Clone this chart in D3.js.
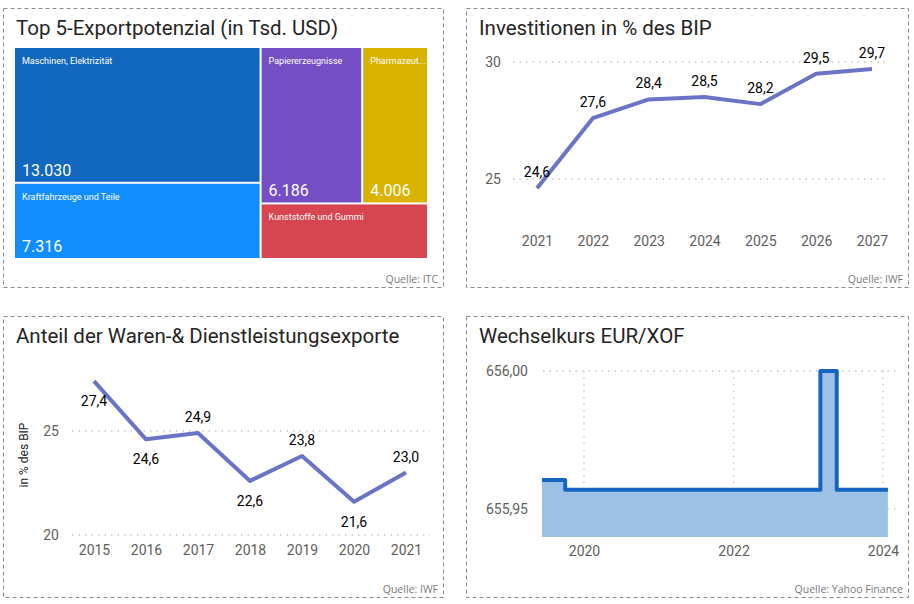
<!DOCTYPE html>
<html>
<head>
<meta charset="utf-8">
<script src="https://cdn.jsdelivr.net/npm/d3@7"></script>
<style>
  html, body { margin: 0; padding: 0; background: #ffffff; }
  svg { display: block; }
</style>
</head>
<body>
<svg id="chart" width="914" height="604"></svg>
<script>
// ---------------- DATA ----------------
// Panel 1: treemap (Top 5 export potential, thousand USD)
const exportCategories = ["Maschinen, Elektrizität", "Kraftfahrzeuge und Teile", "Papiererzeugnisse", "Pharmazeutische Erzeugnisse", "Kunststoffe und Gummi"];
const exportValues = [13030, 7316, 6186, 4006, 3620];

// Panel 2: investment in % of GDP
const investYears = [2021, 2022, 2023, 2024, 2025, 2026, 2027];
const investValues = [24.6, 27.6, 28.4, 28.5, 28.2, 29.5, 29.7];
const investTicks = [25, 30];

// Panel 3: exports of goods & services share
const exportShareYears = [2015, 2016, 2017, 2018, 2019, 2020, 2021];
const exportShareValues = [27.4, 24.6, 24.9, 22.6, 23.8, 21.6, 23.0];
const exportShareTicks = [20, 25];
const exportShareLabelSide = ["below", "below", "above", "below", "above", "below", "above"];

// Panel 4: exchange rate EUR/XOF
const fxDates = ["2019-06-10", "2019-10-01", "2023-03-01", "2023-05-20", "2024-01-25"];
const fxValues = [655.9605, 655.957, 656.0, 655.957, 655.957];
const fxYTicks = [655.95, 656.00];
const fxXTicks = [2020, 2022, 2024];

const titles = ["Top 5-Exportpotenzial (in Tsd. USD)", "Investitionen in % des BIP", "Anteil der Waren-& Dienstleistungsexporte", "Wechselkurs EUR/XOF"];
const sources = ["Quelle: ITC", "Quelle: IWF", "Quelle: IWF", "Quelle: Yahoo Finance"];

// ---------------- STYLE ----------------
const FONT = "Roboto, 'DejaVu Sans', sans-serif";
const SRC_FONT = "'Open Sans', 'Liberation Sans', sans-serif";
const LINE_COLOR = "#6B73C6";
const TICK_COLOR = "#605E5C";
const GRID_COLOR = "#C8C6C4";
const tileColors = ["#1267BF", "#118DFF", "#744EC2", "#D9B300", "#D64550"];

const svg = d3.select("#chart");

const panels = [
  {x: 3, y: 8, w: 440, h: 279},
  {x: 466, y: 8, w: 442, h: 279},
  {x: 3, y: 316, w: 440, h: 281},
  {x: 466, y: 316, w: 442, h: 281}
];

panels.forEach((p, i) => {
  svg.append("rect")
    .attr("x", p.x + 0.5).attr("y", p.y + 0.5)
    .attr("width", p.w).attr("height", p.h)
    .attr("fill", "none").attr("stroke", "#8a8a8a")
    .attr("stroke-width", 1).attr("stroke-dasharray", "4,3");
  svg.append("text")
    .attr("x", p.x + 13).attr("y", p.y + 27)
    .attr("font-family", FONT).attr("font-size", 20.5)
    .attr("fill", "#252423")
    .text(titles[i]);
  svg.append("text")
    .attr("x", p.x + p.w - 5).attr("y", p.y + p.h - 4)
    .attr("text-anchor", "end")
    .attr("font-family", SRC_FONT).attr("font-size", 10.5)
    .attr("fill", "#7a7a7a")
    .text(sources[i]);
});

const fmt = v => d3.format(".1f")(v).replace(".", ",");

// ---------------- PANEL 1: TREEMAP ----------------
(function () {
  const tm = {x0: 16, y0: 49, x1: 426, y1: 257};
  // grouping reproduces the reference arrangement
  const leaves = exportCategories.map((c, i) => ({name: c, value: exportValues[i], idx: i}));
  const tree = {children: [
    {children: [leaves[0], leaves[1]]},
    {children: [{children: [leaves[2], leaves[3]]}, leaves[4]]}
  ]};
  const root = d3.hierarchy(tree).sum(d => d.value || 0);
  d3.treemap()
    .size([tm.x1 - tm.x0 + 2, tm.y1 - tm.y0 + 2])
    .paddingInner(2)
    .tile((node, x0, y0, x1, y1) => {
      if (node.depth % 2 === 0) d3.treemapDice(node, x0, y0, x1, y1);
      else d3.treemapSlice(node, x0, y0, x1, y1);
    })(root);

  const g = svg.append("g").attr("transform", `translate(${tm.x0 - 1},${tm.y0 - 1})`);
  const cells = g.selectAll("g.cell").data(root.leaves()).join("g")
    .attr("transform", d => `translate(${d.x0},${d.y0})`);
  cells.append("rect")
    .attr("width", d => d.x1 - d.x0).attr("height", d => d.y1 - d.y0)
    .attr("fill", d => tileColors[d.data.idx]);
  cells.append("text")
    .attr("x", 7).attr("y", 16)
    .attr("font-family", FONT).attr("font-size", 9)
    .attr("fill", "#ffffff")
    .text(d => d.data.name)
    .each(function (d) {
      const maxW = d.x1 - d.x0 - 8;
      const el = d3.select(this);
      let t = d.data.name;
      if (this.getComputedTextLength() > maxW) {
        while (t.length > 1) {
          t = t.slice(0, -1);
          el.text(t + "...");
          if (this.getComputedTextLength() <= maxW) break;
        }
      }
    });
  cells.filter(d => d.y1 - d.y0 > 60).append("text")
    .attr("x", 7).attr("y", d => d.y1 - d.y0 - 6)
    .attr("font-family", FONT).attr("font-size", 16)
    .attr("fill", "#ffffff")
    .text(d => d3.format(",")(d.data.value).replace(/,/g, "."));
})();

// ---------------- generic line chart helper ----------------
function dottedH(g, x0, x1, y) {
  g.append("line").attr("x1", x0).attr("x2", x1).attr("y1", y).attr("y2", y)
    .attr("stroke", GRID_COLOR).attr("stroke-width", 1.3).attr("stroke-dasharray", "1.5,5");
}

// ---------------- PANEL 2: INVESTITIONEN ----------------
(function () {
  const x = d3.scalePoint().domain(investYears).range([537, 872]);
  const y = d3.scaleLinear().domain([25, 30]).range([179, 62]);
  const g = svg.append("g");
  investTicks.forEach(t => dottedH(g, 513, 890, y(t)));
  const yAxis = d3.axisLeft(y).tickValues(investTicks).tickSize(0).tickPadding(0).tickFormat(d3.format("d"));
  const ya = g.append("g").attr("transform", "translate(501,0)").call(yAxis);
  ya.select(".domain").remove();
  ya.selectAll("text").attr("font-family", FONT).attr("font-size", 14).attr("fill", TICK_COLOR);
  const xAxis = d3.axisBottom(x).tickSize(0).tickPadding(0).tickFormat(d3.format("d"));
  const xa = g.append("g").attr("transform", "translate(0,236)").call(xAxis);
  xa.select(".domain").remove();
  xa.selectAll("text").attr("font-family", FONT).attr("font-size", 14).attr("fill", TICK_COLOR);
  const line = d3.line().x((d, i) => x(investYears[i])).y(d => y(d));
  g.append("path").datum(investValues).attr("d", line)
    .attr("fill", "none").attr("stroke", LINE_COLOR).attr("stroke-width", 4)
    .attr("stroke-linejoin", "round");
  g.selectAll("text.lbl").data(investValues).join("text").attr("class", "lbl")
    .attr("x", (d, i) => x(investYears[i])).attr("y", d => y(d) - 11)
    .attr("text-anchor", "middle")
    .attr("font-family", FONT).attr("font-size", 14).attr("fill", "#000")
    .text(d => fmt(d));
})();

// ---------------- PANEL 3: EXPORTANTEIL ----------------
(function () {
  const x = d3.scalePoint().domain(exportShareYears).range([94, 406]);
  const y = d3.scaleLinear().domain([20, 25]).range([535, 431]);
  const g = svg.append("g");
  exportShareTicks.forEach(t => dottedH(g, 72, 430, y(t)));
  const yAxis = d3.axisLeft(y).tickValues(exportShareTicks).tickSize(0).tickPadding(0).tickFormat(d3.format("d"));
  const ya = g.append("g").attr("transform", "translate(59,0)").call(yAxis);
  ya.select(".domain").remove();
  ya.selectAll("text").attr("font-family", FONT).attr("font-size", 14).attr("fill", TICK_COLOR);
  const xAxis = d3.axisBottom(x).tickSize(0).tickPadding(0).tickFormat(d3.format("d"));
  const xa = g.append("g").attr("transform", "translate(0,545)").call(xAxis);
  xa.select(".domain").remove();
  xa.selectAll("text").attr("font-family", FONT).attr("font-size", 14).attr("fill", TICK_COLOR);
  g.append("text")
    .attr("transform", "translate(28,455) rotate(-90)")
    .attr("text-anchor", "middle")
    .attr("font-family", FONT).attr("font-size", 12).attr("fill", "#252423")
    .text("in % des BIP");
  const line = d3.line().x((d, i) => x(exportShareYears[i])).y(d => y(d));
  g.append("path").datum(exportShareValues).attr("d", line)
    .attr("fill", "none").attr("stroke", LINE_COLOR).attr("stroke-width", 4)
    .attr("stroke-linejoin", "round");
  g.selectAll("text.lbl").data(exportShareValues).join("text").attr("class", "lbl")
    .attr("x", (d, i) => x(exportShareYears[i]))
    .attr("y", (d, i) => exportShareLabelSide[i] === "above" ? y(d) - 11 : y(d) + 25)
    .attr("text-anchor", "middle")
    .attr("font-family", FONT).attr("font-size", 14).attr("fill", "#000")
    .text(d => fmt(d));
})();

// ---------------- PANEL 4: WECHSELKURS ----------------
(function () {
  const parse = d3.timeParse("%Y-%m-%d");
  const data = fxDates.map((d, i) => ({date: parse(d), value: fxValues[i]}));
  const x = d3.scaleTime()
    .domain([new Date(2020, 0, 1), new Date(2024, 0, 1)])
    .range([584, 883]);
  const y = d3.scaleLinear().domain([655.95, 656.00]).range([509, 371]);
  const yBase = 655.9399;
  const g = svg.append("g");
  fxYTicks.forEach(t => dottedH(g, 543, 900, y(t)));
  fxXTicks.forEach(t => {
    const xx = x(new Date(t, 0, 1));
    g.append("line").attr("x1", xx).attr("x2", xx).attr("y1", y(656.0)).attr("y2", y(yBase))
      .attr("stroke", GRID_COLOR).attr("stroke-width", 1.3).attr("stroke-dasharray", "1.5,5");
  });
  const yAxis = d3.axisLeft(y).tickValues(fxYTicks).tickSize(0).tickPadding(0)
    .tickFormat(d => d3.format(".2f")(d).replace(".", ","));
  const ya = g.append("g").attr("transform", "translate(528,0)").call(yAxis);
  ya.select(".domain").remove();
  ya.selectAll("text").attr("font-family", FONT).attr("font-size", 14).attr("fill", TICK_COLOR);
  const xAxis = d3.axisBottom(x).tickValues(fxXTicks.map(t => new Date(t, 0, 1)))
    .tickSize(0).tickPadding(0).tickFormat(d3.timeFormat("%Y"));
  const xa = g.append("g").attr("transform", "translate(0,546)").call(xAxis);
  xa.select(".domain").remove();
  xa.selectAll("text").attr("font-family", FONT).attr("font-size", 14).attr("fill", TICK_COLOR);

  const area = d3.area().curve(d3.curveStepAfter)
    .x(d => x(d.date)).y0(y(yBase)).y1(d => y(d.value));
  g.append("path").datum(data).attr("d", area).attr("fill", "#9DC1E5");
  const line = d3.line().curve(d3.curveStepAfter)
    .x(d => x(d.date)).y(d => y(d.value));
  g.append("path").datum(data).attr("d", line)
    .attr("fill", "none").attr("stroke", "#1565C0").attr("stroke-width", 4)
    .attr("stroke-linejoin", "round");
})();
</script>
</body>
</html>
